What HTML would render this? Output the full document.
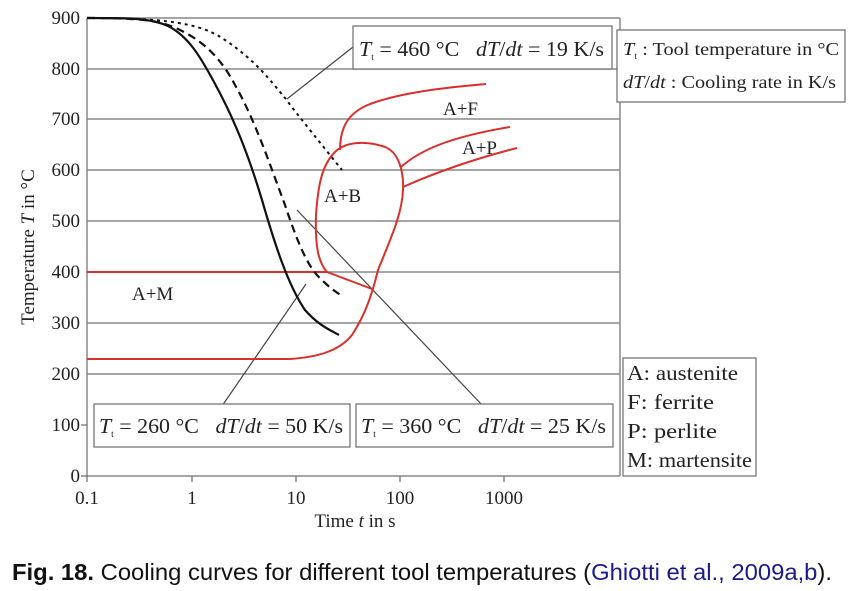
<!DOCTYPE html>
<html><head><meta charset="utf-8"><style>
body{margin:0;background:#fff;width:849px;height:591px;overflow:hidden}
svg{display:block}
.t{font-family:"Liberation Serif",serif;fill:#222}
</style></head><body>
<svg width="849" height="591" viewBox="0 0 849 591">
<g stroke="#888" stroke-width="1.5">
<line x1="87" y1="18" x2="620" y2="18"/>
<line x1="87" y1="69" x2="620" y2="69"/>
<line x1="87" y1="119" x2="620" y2="119"/>
<line x1="87" y1="170" x2="620" y2="170"/>
<line x1="87" y1="221" x2="620" y2="221"/>
<line x1="87" y1="272" x2="620" y2="272"/>
<line x1="87" y1="323" x2="620" y2="323"/>
<line x1="87" y1="374" x2="620" y2="374"/>
<line x1="87" y1="476" x2="620" y2="476"/>
<line x1="87" y1="18" x2="87" y2="476"/>
<line x1="620" y1="18" x2="620" y2="476"/>
</g>
<g stroke="#666" stroke-width="1.2">
<line x1="81" y1="425" x2="87" y2="425"/><line x1="81" y1="476" x2="87" y2="476"/>
<line x1="192" y1="476" x2="192" y2="482"/><line x1="296" y1="476" x2="296" y2="482"/>
<line x1="400" y1="476" x2="400" y2="482"/><line x1="504" y1="476" x2="504" y2="482"/>
<line x1="87" y1="476" x2="87" y2="482"/>
</g>
<g class="t" font-size="19" text-anchor="end">
<text x="80" y="24">900</text><text x="80" y="75">800</text><text x="80" y="125">700</text>
<text x="80" y="176">600</text><text x="80" y="227">500</text><text x="80" y="278">400</text>
<text x="80" y="329">300</text><text x="80" y="380">200</text><text x="80" y="431">100</text>
<text x="80" y="482">0</text>
</g>
<g class="t" font-size="19" text-anchor="middle">
<text x="87" y="504">0.1</text><text x="192" y="504">1</text><text x="296" y="504">10</text>
<text x="400" y="504">100</text><text x="504" y="504">1000</text>
<text x="355" y="527">Time <tspan font-style="italic">t</tspan> in s</text>
<text transform="translate(34,247) rotate(-90)" font-size="19">Temperature <tspan font-style="italic">T</tspan> in °C</text>
</g>
<g stroke="#444" stroke-width="1.2" fill="none">
<line x1="353" y1="47" x2="287" y2="99"/>
<line x1="222" y1="406" x2="306" y2="284"/>
<line x1="483" y1="406" x2="297" y2="210"/>
</g>
<g stroke="#d9302c" stroke-width="2" fill="none">
<path d="M87 272 L327 272 L372 289"/>
<path d="M87 359 L290 359 C320 357 340 350 352 335 C365 315 372 295 378 270 C390 240 402 215 403 190 C404 170 398 152 385 147 C365 140 345 142 335 152 C322 165 318 185 316 215 C315 245 318 262 327 272"/>
<path d="M340 150 C340 125 350 112 370 104 C400 93 440 88 486 84"/>
<path d="M401 167 C420 150 450 137 510 127"/>
<path d="M403 187 C430 175 470 160 517 148"/>
</g>
<g stroke="#111" fill="none">
<path stroke-width="2.2" d="M87 18 C130 18 150 18 168 26 C188 36 200 56 214 82 C236 122 250 160 262 200 C275 245 288 285 305 310 C318 325 330 330 339 335"/>
<path stroke-width="2.2" stroke-dasharray="8,5" d="M87 18 C140 18 160 20 180 30 C205 42 222 60 235 85 C255 120 270 165 285 205 C300 250 310 270 322 280 C330 288 336 292 342 296"/>
<path stroke-width="2" stroke-dasharray="3,4" d="M87 18 C160 18 200 22 225 40 C255 60 270 80 285 98 C300 118 322 145 342 170"/>
</g>
<g fill="#fff" stroke="#777" stroke-width="1.3">
<rect x="353" y="26" width="259" height="43"/>
<rect x="617" y="30" width="228" height="72"/>
<rect x="94" y="404" width="256" height="43"/>
<rect x="356" y="404" width="257" height="43"/>
<rect x="623" y="358" width="133" height="118"/>
</g>
<g class="t" font-size="21">
<text x="359" y="56" textLength="245" lengthAdjust="spacingAndGlyphs"><tspan font-style="italic">T</tspan><tspan font-size="9" dy="4">t</tspan><tspan dy="-4"> = 460 °C</tspan><tspan dx="16" font-style="italic">dT</tspan>/<tspan font-style="italic">dt</tspan> = 19 K/s</text>
<text x="623" y="55" font-size="18" textLength="216" lengthAdjust="spacingAndGlyphs"><tspan font-style="italic">T</tspan><tspan font-size="9" dy="4">t</tspan><tspan dy="-4"> : Tool temperature in °C</tspan></text>
<text x="623" y="88" font-size="18" textLength="213" lengthAdjust="spacingAndGlyphs"><tspan font-style="italic">dT</tspan>/<tspan font-style="italic">dt</tspan> : Cooling rate in K/s</text>
<text x="99" y="433" textLength="244" lengthAdjust="spacingAndGlyphs"><tspan font-style="italic">T</tspan><tspan font-size="9" dy="4">t</tspan><tspan dy="-4"> = 260 °C</tspan><tspan dx="16" font-style="italic">dT</tspan>/<tspan font-style="italic">dt</tspan> = 50 K/s</text>
<text x="361" y="433" textLength="245" lengthAdjust="spacingAndGlyphs"><tspan font-style="italic">T</tspan><tspan font-size="9" dy="4">t</tspan><tspan dy="-4"> = 360 °C</tspan><tspan dx="16" font-style="italic">dT</tspan>/<tspan font-style="italic">dt</tspan> = 25 K/s</text>
<text x="627" y="380" textLength="111" lengthAdjust="spacingAndGlyphs">A:  austenite</text>
<text x="627" y="409" textLength="87" lengthAdjust="spacingAndGlyphs">F:  ferrite</text>
<text x="627" y="438" textLength="90" lengthAdjust="spacingAndGlyphs">P:  perlite</text>
<text x="627" y="467" textLength="125" lengthAdjust="spacingAndGlyphs">M: martensite</text>
<text x="443" y="115" font-size="19">A+F</text>
<text x="462" y="154" font-size="19">A+P</text>
<text x="324" y="202" font-size="19">A+B</text>
<text x="132" y="300" font-size="19">A+M</text>
</g>
<text x="12" y="580" font-family="Liberation Sans,sans-serif" font-size="23" fill="#111" textLength="820" lengthAdjust="spacingAndGlyphs"><tspan font-weight="bold">Fig. 18.</tspan>  Cooling curves for different tool temperatures (<tspan fill="#1a1a8c">Ghiotti et al., 2009a,b</tspan>).</text>
</svg>
</body></html>
